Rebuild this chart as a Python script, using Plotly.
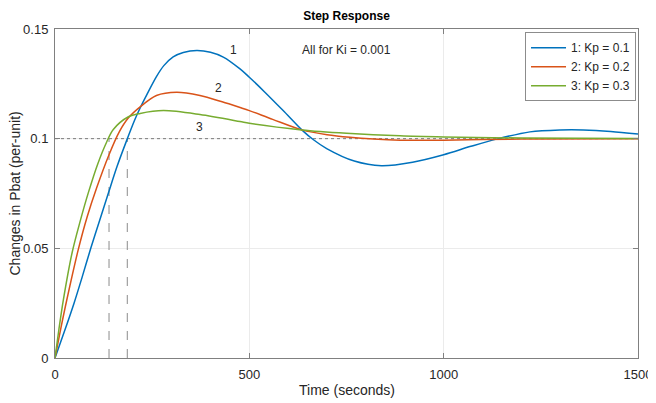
import plotly.graph_objects as go

# ---- data ----
t_kp01 = [0, 25, 49, 70, 92, 115, 137, 160, 184, 205, 219, 236, 261, 280, 304, 330, 365, 400,
          433, 476, 500, 540, 587, 635, 665, 699, 770, 840, 920, 1000, 1070, 1136, 1222, 1300,
          1359, 1430, 1500]
y_kp01 = [0, 0.0125, 0.025, 0.037, 0.05, 0.0628, 0.0750, 0.0875, 0.099, 0.1085, 0.114, 0.1200,
          0.1283, 0.1333, 0.1373, 0.1393, 0.1402, 0.1394, 0.1372, 0.1318, 0.1280, 0.1212, 0.1128,
          0.104, 0.0995, 0.0955, 0.0898, 0.0877, 0.0893, 0.0927, 0.0965, 0.0998, 0.1031, 0.1040,
          0.1040, 0.1033, 0.1021]

t_kp02 = [0, 15, 30, 60, 83, 107, 139, 165, 189, 219, 261, 313, 373, 430, 476, 500, 560, 635,
          700, 759, 820, 888, 1000, 1100, 1250, 1500]
y_kp02 = [0, 0.0135, 0.0262, 0.0495, 0.0645, 0.0775, 0.0927, 0.103, 0.1095, 0.1145, 0.1197,
          0.1212, 0.1197, 0.1168, 0.1142, 0.1128, 0.1088, 0.104, 0.1018, 0.1006, 0.0998, 0.0993,
          0.0993, 0.0996, 0.0999, 0.1]

t_kp03 = [0, 10, 21.5, 44, 65, 86, 110, 133, 150, 189, 219, 279, 373, 476, 500, 635, 750, 888,
          1000, 1200, 1500]
y_kp03 = [0, 0.013, 0.0265, 0.048, 0.0625, 0.0755, 0.0885, 0.0985, 0.1042, 0.110, 0.1115, 0.1128,
          0.111, 0.1078, 0.107, 0.104, 0.1025, 0.1013, 0.1008, 0.1003, 0.1001]

series_names = ["1: Kp = 0.1", "2: Kp = 0.2", "3: Kp = 0.3"]
series_colors = ["#0072BD", "#D95319", "#77AC30"]

steady_value = 0.1
rise_marks = [139, 186]

label_text = ["1", "2", "3"]
label_t = [460, 420, 371]
label_y = [0.1403, 0.1232, 0.1053]

x_ticks = [0, 500, 1000, 1500]
y_ticks = [0, 0.05, 0.1, 0.15]
y_ticktext = ["0", "0.05", "0.1", "0.15"]

FONT = "Liberation Sans, Arial, Helvetica, sans-serif"

fig = go.Figure()

# steady state dotted line
fig.add_trace(go.Scatter(x=[0, 1500], y=[steady_value, steady_value], mode="lines",
                         line=dict(color="#7a7a7a", width=1, dash="dot"),
                         showlegend=False, hoverinfo="skip"))
# rise time dashed markers
for rm in rise_marks:
    fig.add_trace(go.Scatter(x=[rm, rm], y=[0, steady_value], mode="lines",
                             line=dict(color="#8c8c8c", width=1, dash="dash"),
                             showlegend=False, hoverinfo="skip"))

for tx, ty, nm, col in zip([t_kp01, t_kp02, t_kp03], [y_kp01, y_kp02, y_kp03],
                           series_names, series_colors):
    fig.add_trace(go.Scatter(x=tx, y=ty, mode="lines", name=nm,
                             line=dict(color=col, width=1.5, shape="spline", smoothing=0.9)))

annotations = []
for txt, lx, ly in zip(label_text, label_t, label_y):
    annotations.append(dict(x=lx, y=ly, xref="x", yref="y", text=txt, showarrow=False,
                            font=dict(family=FONT, size=12, color="#262626")))
annotations.append(dict(x=749, y=0.1403, xref="x", yref="y", text="All for Ki = 0.001",
                        showarrow=False, font=dict(family=FONT, size=12, color="#262626")))
annotations.append(dict(x=0, y=0.5, xref="paper", yref="paper", xshift=-41, textangle=-90,
                        text="Changes in Pbat (per-unit)", showarrow=False,
                        xanchor="center", yanchor="middle",
                        font=dict(family=FONT, size=14, color="#262626")))
annotations.append(dict(x=0.5, y=0, xref="paper", yref="paper", yshift=-32,
                        text="Time (seconds)", showarrow=False,
                        xanchor="center", yanchor="middle",
                        font=dict(family=FONT, size=14, color="#262626")))

# the page body adds an 8px offset, so the figure is drawn 8px smaller
fig.update_layout(
    width=648, height=395,
    margin=dict(l=47, r=18, t=21, b=45, autoexpand=False),
    paper_bgcolor="white", plot_bgcolor="white",
    font=dict(family=FONT, size=13, color="#262626"),
    title=dict(text="<b>Step Response</b>", x=0.5224, xanchor="center", y=0.981,
               yanchor="middle", font=dict(family=FONT, size=12, color="#000000")),
    legend=dict(x=0.9966, y=0.99, xanchor="right", yanchor="top",
                bgcolor="white", bordercolor="#8c8c8c", borderwidth=1,
                font=dict(family=FONT, size=12, color="#262626"),
                tracegroupgap=0, itemwidth=35),
    annotations=annotations,
    showlegend=True,
)

fig.update_xaxes(range=[0, 1500], tickvals=x_ticks, showgrid=True, gridcolor="#ebebeb",
                 gridwidth=1, zeroline=False, showline=True, linecolor="#808080", linewidth=1,
                 mirror="ticks", ticks="inside", ticklen=5, tickcolor="#808080",
                 ticklabelstandoff=4, ticklabeloverflow="allow", automargin=False,
                 tickfont=dict(family=FONT, size=13, color="#262626"))
fig.update_yaxes(range=[0, 0.15], tickvals=y_ticks, ticktext=y_ticktext, showgrid=True,
                 gridcolor="#ebebeb", gridwidth=1, zeroline=False, showline=True,
                 linecolor="#808080", linewidth=1, mirror="ticks", ticks="inside", ticklen=5,
                 tickcolor="#808080", ticklabelstandoff=3, automargin=False,
                 tickfont=dict(family=FONT, size=13, color="#262626"))

fig.write_html("out.html", config={"displayModeBar": False})
